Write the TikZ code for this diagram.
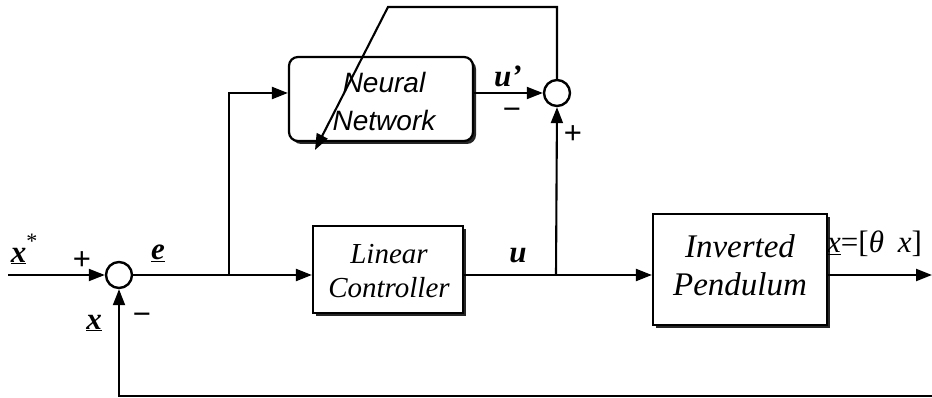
\documentclass[tikz,border=0pt]{standalone}
\usepackage{fontspec}
\setmainfont{Liberation Serif}
\setsansfont{Liberation Sans}
\usetikzlibrary{arrows.meta,shadows,positioning}
\begin{document}
\begin{tikzpicture}[x=1pt,y=-1pt,
  wire/.style={line width=2.1pt},
  arr/.style={wire,-{Triangle[length=16pt,width=12pt]}},
  sumnode/.style={circle,draw,line width=2.4pt,minimum size=26pt,inner sep=0pt,fill=white},
  blockbox/.style={draw,line width=2.2pt,fill=white,inner sep=0pt,
     drop shadow={shadow xshift=3pt,shadow yshift=-3pt,fill=black!85,opacity=1}},
  sig/.style={font=\fontsize{31}{32}\selectfont\bfseries\itshape,inner sep=0pt},
  sgn/.style={font=\sffamily\fontsize{31}{32}\selectfont,inner sep=0pt},
]
\useasboundingbox (0,0) rectangle (932,398);

% blocks
\node[blockbox,rounded corners=9pt,minimum width=184pt,minimum height=84pt] (nn) at (381,99) {};
\node[font=\sffamily\itshape\fontsize{28}{38}\selectfont,align=center,inner sep=0pt] (nntext) at (384,101) {Neural\\Network};
\node[blockbox,minimum width=150pt,minimum height=87pt] (lc) at (388,269.5) {};
\node[font=\itshape\fontsize{29}{34}\selectfont,align=center,inner sep=0pt] (lctext) at (389,271) {Linear\\Controller};
\node[blockbox,minimum width=174pt,minimum height=111pt] (ip) at (740,269.5) {};
\node[font=\itshape\fontsize{33}{38}\selectfont,align=center,inner sep=0pt] (iptext) at (740,265) {Inverted\\Pendulum};

% summing junctions
\node[sumnode] (s1) at (119,275) {};
\node[sumnode] (s2) at (557,93) {};

% coordinates
\coordinate (in) at (8,275);
\coordinate (br1) at (229,275);
\coordinate (br2) at (556,275);
\coordinate (out) at (932,275);
\coordinate (fb) at (932,396);
\coordinate (fbl) at (119,396);
\coordinate (t1) at (557,7);
\coordinate (t2) at (388,7);
\coordinate (tip) at (315,150);

% connectors
\draw[arr] (in) -- (s1.west);
\draw[wire] (s1.east) -- (br1);
\draw[arr] (br1) -- (lc.west |- br1);
\draw[arr] (br1) |- (nn.west |- s2);
\draw[arr] (nn.east |- s2) -- (s2.west);
\draw[wire] (lc.east |- br2) -- (br2);
\draw[arr] (br2) -- (ip.west |- br2);
\draw[arr] (br2) -- (s2.south);
\draw[arr] (ip.east |- out) -- (out);
\draw[arr] (fb) -- (fbl) -- (s1.south);
\draw[arr] (s2.north) -- (t1) -- (t2) -- (tip);

% signal labels
\node[sig] (lxs) at (24,249) {\underline{x}\raisebox{0.45em}{\normalfont\fontsize{22}{22}\selectfont*}};
\node[sig] (le) at (158,253) {\underline{e}};
\node[sig] (lx) at (94,323) {\underline{x}};
\node[sig] (lu) at (518,256) {u};
\node[sig] (lup) at (508,76) {u’};
\node[font=\itshape\fontsize{31}{32}\selectfont,inner sep=0pt,anchor=base west] (lout) at (827,253) {\underline{x}\upshape=[\itshape θ\hspace{0.45em}x\upshape]};

% signs
\node[sgn] (p1) at (82,261) {+};
\node[sgn] (m1) at (142,319) {−};
\node[sgn] (m2) at (512,114) {−};
\node[sgn] (p2) at (573,135) {+};
\end{tikzpicture}
\end{document}
